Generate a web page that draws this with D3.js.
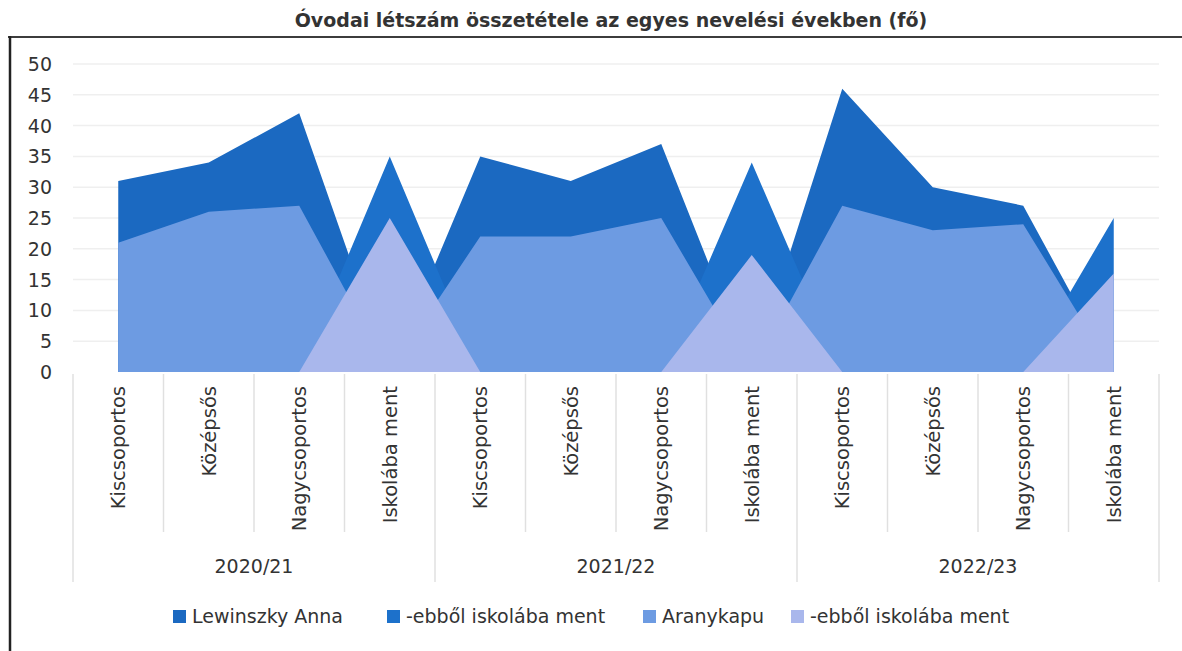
<!DOCTYPE html>
<html>
<head>
<meta charset="utf-8">
<title>Óvodai létszám</title>
<script src="https://cdn.jsdelivr.net/npm/d3@7/dist/d3.min.js"></script>
<style>
  body { margin: 0; background: #fff; }
  text { font-family: "DejaVu Sans", sans-serif; fill: #333; }
</style>
</head>
<body>
<script>
  // kategóriák és évek
  var categories = ["Kiscsoportos", "Középsős", "Nagycsoportos", "Iskolába ment",
                    "Kiscsoportos", "Középsős", "Nagycsoportos", "Iskolába ment",
                    "Kiscsoportos", "Középsős", "Nagycsoportos", "Iskolába ment"];
  var years = ["2020/21", "2021/22", "2022/23"];

  // sorozatok
  var lewinszky   = [31, 34, 42, 0, 35, 31, 37, 0, 46, 30, 27, 0];
  var lewIskola   = [0, 0, 0, 35, 0, 0, 0, 34, 0, 0, 0, 25];
  var aranykapu   = [21, 26, 27, 0, 22, 22, 25, 0, 27, 23, 24, 0];
  var aranyIskola = [0, 0, 0, 25, 0, 0, 0, 19, 0, 0, 0, 16];

  var seriesNames = ["Lewinszky Anna", "-ebből iskolába ment", "Aranykapu", "-ebből iskolába ment"];
  var yTicks = [0, 5, 10, 15, 20, 25, 30, 35, 40, 45, 50];

  var width = 1182, height = 651;
  var colors = ["#1b69c1", "#1d71cb", "#6d9be2", "#a9b7ec"];
  var series = [lewinszky, lewIskola, aranykapu, aranyIskola];

  var svg = d3.select("body").append("svg").attr("width", width).attr("height", height);

  // keret (szkennelt kép széle)
  svg.append("line").attr("x1", 8).attr("x2", 1182).attr("y1", 37).attr("y2", 37)
    .attr("stroke", "#3c3c3c").attr("stroke-width", 2);
  svg.append("line").attr("x1", 10).attr("x2", 10).attr("y1", 36).attr("y2", 651)
    .attr("stroke", "#222").attr("stroke-width", 2.5);

  // cím
  svg.append("text")
    .attr("x", 611).attr("y", 27)
    .attr("text-anchor", "middle")
    .style("font-size", "19px").style("font-weight", "bold")
    .text("Óvodai létszám összetétele az egyes nevelési években (fő)");

  var x = d3.scalePoint().domain(d3.range(categories.length)).range([73, 1159]).padding(0.5);
  var step = x.step();
  var y = d3.scaleLinear().domain([0, 50]).range([372, 64]);

  // rácsvonalak
  svg.append("g").selectAll("line").data(yTicks.slice(1)).enter().append("line")
    .attr("x1", 73).attr("x2", 1159)
    .attr("y1", function(d) { return y(d); }).attr("y2", function(d) { return y(d); })
    .attr("stroke", "#efefef").attr("stroke-width", 1.5);

  // y tengely feliratai
  svg.append("g").selectAll("text").data(yTicks).enter().append("text")
    .attr("x", 52).attr("y", function(d) { return y(d) + 7; })
    .attr("text-anchor", "end").style("font-size", "19px")
    .text(function(d) { return d; });

  // területek
  var area = d3.area()
    .x(function(d, i) { return x(i); })
    .y0(y(0))
    .y1(function(d) { return y(d); });

  svg.append("g").selectAll("path").data(series).enter().append("path")
    .attr("d", area)
    .attr("fill", function(d, i) { return colors[i]; });

  // x tengely: elválasztók
  var bounds = d3.range(categories.length + 1);
  svg.append("g").selectAll("line").data(bounds).enter().append("line")
    .attr("x1", function(d) { return 73 + d * step; })
    .attr("x2", function(d) { return 73 + d * step; })
    .attr("y1", 374)
    .attr("y2", function(d) { return d % 4 === 0 ? 582 : 532; })
    .attr("stroke", "#e0e0e0").attr("stroke-width", 1.5);

  // kategória feliratok (elforgatva)
  svg.append("g").selectAll("text").data(categories).enter().append("text")
    .attr("transform", function(d, i) { return "translate(" + (x(i) + 7) + ",386) rotate(-90)"; })
    .attr("text-anchor", "end").style("font-size", "19.5px")
    .text(function(d) { return d; });

  // évek
  svg.append("g").selectAll("text").data(years).enter().append("text")
    .attr("x", function(d, i) { return 73 + (i * 4 + 2) * step; })
    .attr("y", 573)
    .attr("text-anchor", "middle").style("font-size", "19px")
    .text(function(d) { return d; });

  // jelmagyarázat
  var legendX = [173, 387, 643, 791];
  var lg = svg.append("g").selectAll("g").data(seriesNames).enter().append("g")
    .attr("transform", function(d, i) { return "translate(" + legendX[i] + ",610)"; });
  lg.append("rect").attr("width", 13).attr("height", 13)
    .attr("fill", function(d, i) { return colors[i]; });
  lg.append("text").attr("x", 19).attr("y", 13).style("font-size", "19px")
    .text(function(d) { return d; });
</script>
</body>
</html>
